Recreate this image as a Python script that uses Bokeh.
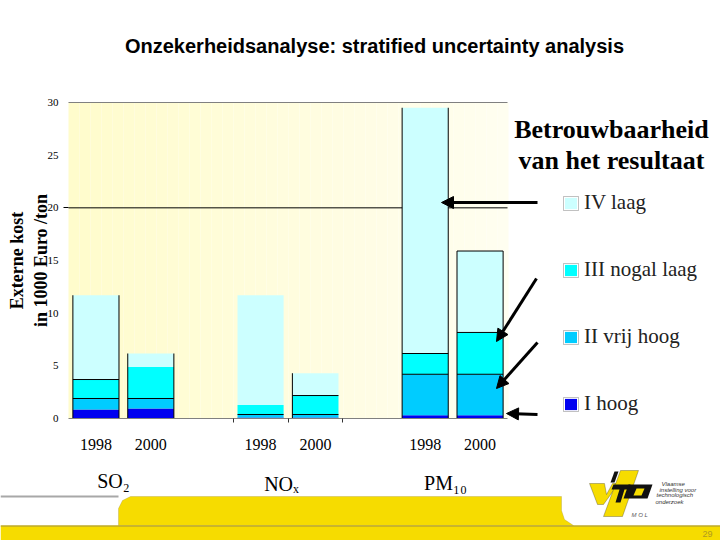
from bokeh.embed import file_html
from bokeh.models import (Arrow, BoxAnnotation, FixedTicker, Label, Legend, LegendItem, NormalHead,
                          PolyAnnotation, Range1d)
from bokeh.plotting import figure
from bokeh.resources import INLINE

group_names = ["SO₂", "NOₓ", "PM₁₀"]
year_names = ["1998", "2000"]
levels = ["I hoog", "II vrij hoog", "III nogal laag", "IV laag"]

# cumulative top of each reliability class
top_i = [0.85, 0.95, 0.1, 0.1, 0.32, 0.32]
top_ii = [1.9, 1.9, 0.38, 0.38, 4.2, 4.2]
top_iii = [3.7, 4.9, 1.27, 2.18, 6.17, 8.17]
top_iv = [11.7, 6.17, 11.7, 4.3, 29.5, 15.9]

# which bar edges are actually drawn in the original
line_iii = [True, False, False, True, True, True]
line_top = [False, False, False, False, False, True]
side_left = [True, True, False, True, True, True]
side_right = [True, True, False, False, True, True]

colors = ["#0000f0", "#00ccff", "#00ffff", "#ccffff"]
YELLOW = "#f6dc00"
OLIVE = "#a09040"

# three groups of two bars with one empty slot in between
centers = [3 * g + y + 0.5 for g in range(len(group_names)) for y in range(len(year_names))]
tick_labels = {c: year_names[i % 2] for i, c in enumerate(centers)}

# the frame fills the page, the axes sit at fixed locations inside it,
# otherwise all the annotations around the chart get clipped
SLOT = 439 / 8
UNIT = 316 / 30
p = figure(width=720, height=540, output_backend="svg", toolbar_location=None,
           x_range=Range1d(-68 / SLOT, 652 / SLOT), y_range=Range1d(-122 / UNIT, 418 / UNIT),
           min_border=0)
p.outline_line_color = None
p.xgrid.visible = False
p.ygrid.visible = False


def box(left, right, top, bottom, color, level="annotation", line=None):
    p.add_layout(BoxAnnotation(left=left, right=right, top=top, bottom=bottom, left_units="canvas",
                               right_units="canvas", top_units="canvas", bottom_units="canvas",
                               fill_color=color, fill_alpha=1 if color else 0, line_color=line, level=level))


def poly(points, color, line=None):
    p.add_layout(PolyAnnotation(xs=[a for a, b in points], ys=[b for a, b in points], xs_units="canvas",
                                ys_units="canvas", fill_color=color, fill_alpha=1, line_color=line))


def text(x, y, s, size, font="Liberation Serif", style="normal", color="black", align="center"):
    p.add_layout(Label(x=x, y=y, x_units="canvas", y_units="canvas", text=s, text_font=font,
                       text_font_size=size, text_font_style=style, text_color=color, text_align=align,
                       text_baseline="middle"))


def arrow(x0, y0, x1, y1):
    p.add_layout(Arrow(x_start=x0, y_start=y0, x_end=x1, y_end=y1, start_units="canvas", end_units="canvas",
                       line_width=3, line_color="black",
                       end=NormalHead(size=12, fill_color="black", line_color="black")))


# pale yellow gradient behind the bars
steps = 40
for i in range(steps):
    t = i / (steps - 1)
    c = "#%02x%02x%02x" % (255, round(252 + 2 * t), round(204 + 36 * t))
    box(68 + i * 11, 68 + (i + 1) * 11, 102, 418, c, "underlay")

p.segment([0], [20], [8], [20], line_color="black", line_width=1)
p.segment([0], [30], [8], [30], line_color="#808080", line_width=1)

bottoms = [[0] * 6, top_i, top_ii, top_iii]
tops = [top_i, top_ii, top_iii, top_iv]
items = []
for lvl, c, b, t in zip(levels, colors, bottoms, tops):
    r = p.vbar(x=centers, bottom=b, top=t, width=0.84, fill_color=c, line_color=None)
    items.append(LegendItem(label=lvl, renderers=[r]))


def hline(values, flags):
    x0 = [c - 0.42 for c, k in zip(centers, flags) if k]
    x1 = [c + 0.42 for c, k in zip(centers, flags) if k]
    ys = [v for v, k in zip(values, flags) if k]
    p.segment(x0, ys, x1, ys, line_color="black", line_width=1)


def vline(offset, flags):
    xs = [c + offset for c, k in zip(centers, flags) if k]
    ys = [v for v, k in zip(top_iv, flags) if k]
    p.segment(xs, [0] * len(xs), xs, ys, line_color="black", line_width=1)


hline(top_ii, [True] * 6)
hline(top_iii, line_iii)
hline(top_iv, line_top)
vline(-0.42, side_left)
vline(0.42, side_right)

legend = Legend(items=items[::-1], location=(563, 124), glyph_width=15, glyph_height=14, label_standoff=6,
                spacing=42, padding=0, margin=0, background_fill_alpha=0, border_line_color=None,
                label_text_font="Liberation Serif", label_text_font_size="21px", label_text_color="#222222")
p.add_layout(legend)

p.yaxis.fixed_location = 0
p.yaxis.bounds = (0, 30)
p.yaxis.ticker = FixedTicker(ticks=[0, 5, 10, 15, 20, 25, 30], minor_ticks=[20])
p.yaxis.axis_line_color = None
p.yaxis.major_tick_line_color = None
p.yaxis.major_tick_out = 0
p.yaxis.major_tick_in = 0
p.yaxis.minor_tick_line_color = "black"
p.yaxis.minor_tick_out = 5
p.yaxis.minor_tick_in = 0
p.yaxis.major_label_text_font = "Liberation Serif"
p.yaxis.major_label_text_font_size = "11px"
p.yaxis.major_label_text_color = "black"
p.yaxis.major_label_standoff = 5
p.yaxis.axis_label = "Externe kost\nin 1000 Euro /ton"
p.yaxis.axis_label_text_font = "Liberation Serif"
p.yaxis.axis_label_text_font_style = "bold"
p.yaxis.axis_label_text_font_size = "18px"
p.yaxis.axis_label_text_color = "black"
p.yaxis.axis_label_standoff = -6

p.xaxis.fixed_location = 0
p.xaxis.bounds = (0, 8)
p.xaxis.ticker = FixedTicker(ticks=centers, minor_ticks=[3, 4, 5])
p.xaxis.major_label_overrides = tick_labels
p.xaxis.axis_line_color = "#808080"
p.xaxis.major_tick_line_color = None
p.xaxis.major_tick_out = 0
p.xaxis.major_tick_in = 0
p.xaxis.minor_tick_line_color = "#333333"
p.xaxis.minor_tick_out = 4
p.xaxis.minor_tick_in = 0
p.xaxis.major_label_text_font = "Liberation Serif"
p.xaxis.major_label_text_font_size = "16px"
p.xaxis.major_label_text_color = "black"
p.xaxis.major_label_standoff = 16

# outlines of the legend swatches
for top in [196, 263, 330, 397]:
    box(563, 578, top, top + 14, None, line="#333333")

# footer bands
box(0, 118, 495, 497, "#a8a8a8")
poly([(130, 496), (561, 496), (561, 510), (564, 519), (573, 525), (118, 525), (118, 508), (122, 500)], YELLOW, OLIVE)
box(0, 720, 525, 540, YELLOW)
box(0, 720, 525, 526, OLIVE)

# logo
poly([(589, 483), (604, 483), (606, 494), (612, 483), (618, 483), (603, 504), (597, 504)], YELLOW, "#222222")
poly([(620, 470), (638, 470), (622, 516), (603, 516)], YELLOW, "#222222")
poly([(610, 482), (614, 471), (618, 471), (614, 482)], "#111111")
poly([(628, 484), (652, 484), (647, 498), (623, 498)], "#111111")
poly([(636, 488), (644, 488), (641, 495), (633, 495)], YELLOW)
poly([(613, 484), (630, 484), (628, 489), (624, 489), (620, 502), (615, 502), (619, 489), (611, 489)], "#111111")

text(374, 45, "Onzekerheidsanalyse: stratified uncertainty analysis", "20px", "Liberation Sans", "bold")
text(611, 129, "Betrouwbaarheid", "26px", style="bold")
text(611, 160, "van het resultaat", "26px", style="bold")
text(113, 480, group_names[0], "20px")
text(281, 483, group_names[1], "20px")
text(445, 482, group_names[2], "20px")
text(661, 483, "Vlaamse", "6px", "Liberation Sans", "italic", "#333333", "left")
text(659, 489, "instelling voor", "6px", "Liberation Sans", "italic", "#333333", "left")
text(656, 494, "technologisch", "6px", "Liberation Sans", "italic", "#333333", "left")
text(655, 501, "onderzoek", "6px", "Liberation Sans", "italic", "#333333", "left")
text(631, 514, "M O L", "6px", "Liberation Sans", "italic", "#555555", "left")
text(707, 533, "29", "9px", "Liberation Sans", "normal", "#b09a20")

arrow(537, 202, 441, 202)
arrow(536, 278, 496, 341)
arrow(537, 342, 496, 388)
arrow(537, 414, 506, 413)

open("out.html", "w").write(file_html(p, INLINE))
